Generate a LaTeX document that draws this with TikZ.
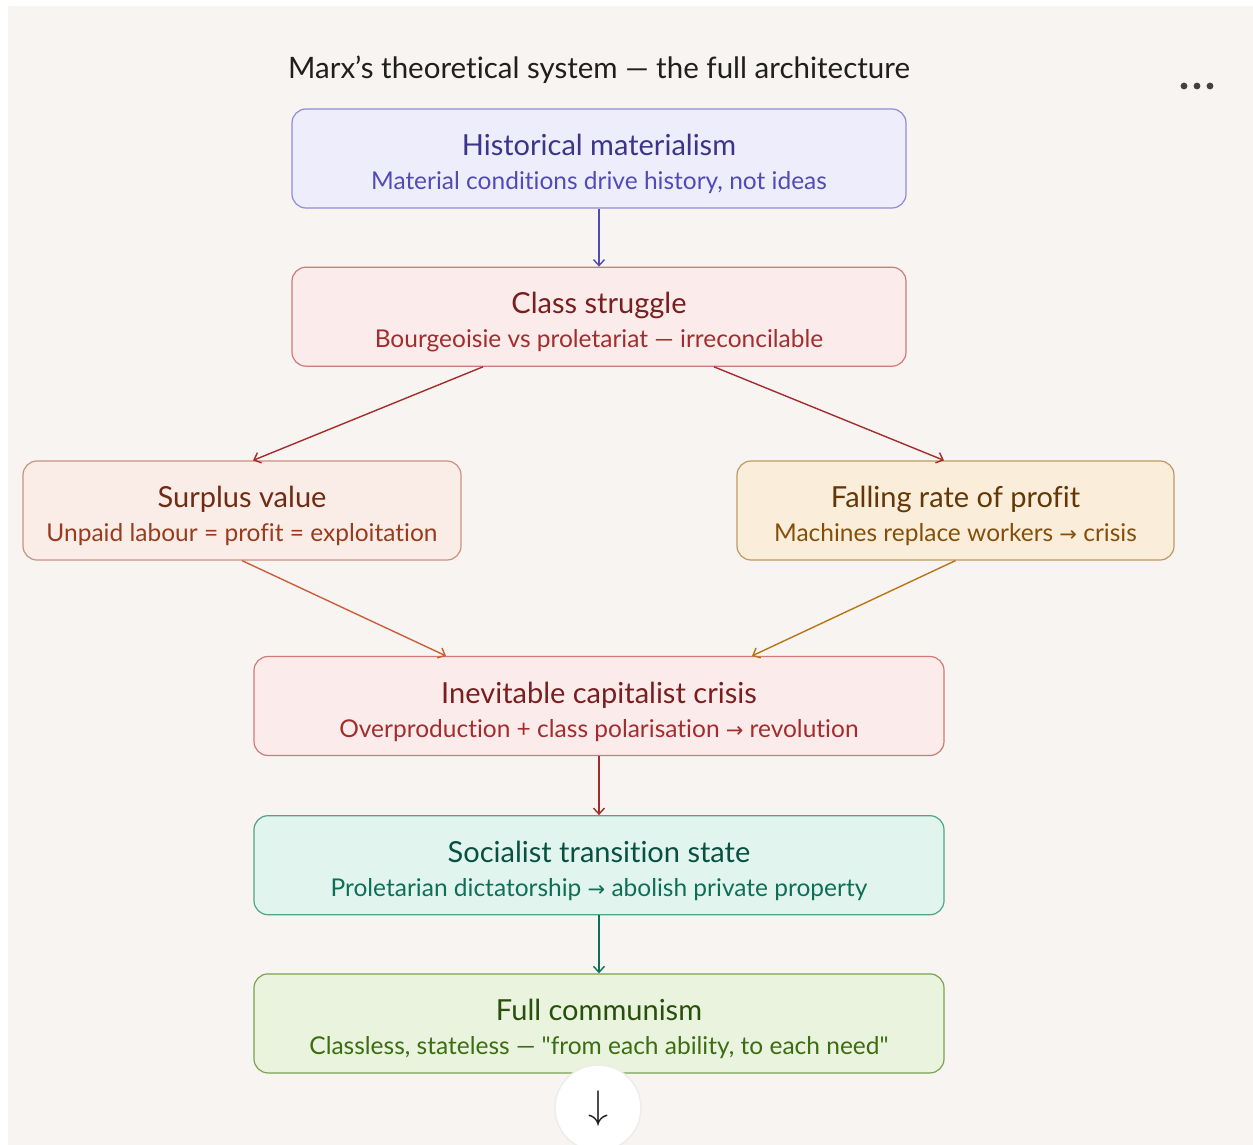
\documentclass[tikz,border=0pt]{standalone}
\usepackage{fontspec}
\setmainfont{Lato}[Ligatures={NoCommon}]
\newfontfamily\symfont{DejaVu Sans}
\usepackage{graphicx}
\usepackage{xcolor}
\definecolor{pagebg}{HTML}{F7F4F1}
\definecolor{ink}{HTML}{1F1F1F}
\definecolor{lavfill}{HTML}{EEEDFC}
\definecolor{lavline}{HTML}{908BD8}
\definecolor{lavhead}{HTML}{3C3489}
\definecolor{lavsub}{HTML}{534AB7}
\definecolor{redfill}{HTML}{FCEBEB}
\definecolor{redline}{HTML}{CF7B78}
\definecolor{redhead}{HTML}{791F1F}
\definecolor{redsub}{HTML}{A32D2D}
\definecolor{corfill}{HTML}{FAECE7}
\definecolor{corline}{HTML}{C9927F}
\definecolor{corhead}{HTML}{712B13}
\definecolor{corsub}{HTML}{993C1D}
\definecolor{corarr}{HTML}{C9603A}
\definecolor{ambfill}{HTML}{FAEEDA}
\definecolor{ambline}{HTML}{BC9A62}
\definecolor{ambhead}{HTML}{633806}
\definecolor{ambsub}{HTML}{854F0B}
\definecolor{ambarr}{HTML}{BA7517}
\definecolor{tealfill}{HTML}{E1F5EE}
\definecolor{tealline}{HTML}{52A487}
\definecolor{tealhead}{HTML}{085041}
\definecolor{tealsub}{HTML}{0F6E56}
\definecolor{grnfill}{HTML}{EAF3DE}
\definecolor{grnline}{HTML}{7AA352}
\definecolor{grnhead}{HTML}{27500A}
\definecolor{grnsub}{HTML}{3B6D11}
\usetikzlibrary{arrows.meta,positioning}
\tikzset{block/.style={draw,rounded corners=14pt,line width=1.2pt,align=center,minimum height=99pt,inner sep=0pt,font=\fontsize{24.5}{34}\selectfont},arr/.style={-{Straight Barb[length=6pt,width=11pt]},line width=1.4pt}}
\newcommand{\hd}[2]{{\color{#1}\fontsize{29}{34}\selectfont\rule{0pt}{33pt}#2}}
\newcommand{\ra}{{\symfont\fontsize{21}{34}\selectfont →}}

\begin{document}
\begin{tikzpicture}[x=1pt,y=-1pt]
\useasboundingbox (0,0) rectangle (1253,1145);
\fill[pagebg] (8,6) rectangle (1253,1145);
\node[font=\fontsize{29.5}{34}\selectfont,text=ink] (title) at (599,70) {Marx’s theoretical system — the full architecture};
\foreach \dx in {0,13,26} \fill[ink!85] (1184+\dx,86) circle (3.4pt);
\node[block,minimum width=614pt,fill=lavfill,draw=lavline,text=lavsub] (hist) at (599,158.5) {\hd{lavhead}{Historical materialism}\\Material conditions drive history, not ideas};
\node[block,minimum width=614pt,fill=redfill,draw=redline,text=redsub,below=58pt of hist] (cls) {\hd{redhead}{Class struggle}\\Bourgeoisie vs proletariat — irreconcilable};
\node[block,minimum width=438pt,fill=corfill,draw=corline,text=corsub] (sv) at (242,510.5) {\hd{corhead}{Surplus value}\\Unpaid labour = profit = exploitation};
\node[block,minimum width=437pt,fill=ambfill,draw=ambline,text=ambsub] (frp) at (955.5,510.5) {\hd{ambhead}{Falling rate of profit}\\Machines replace workers \ra{} crisis};
\node[block,minimum width=690pt,fill=redfill,draw=redline,text=redsub] (crisis) at (599,706) {\hd{redhead}{Inevitable capitalist crisis}\\Overproduction + class polarisation \ra{} revolution};
\node[block,minimum width=690pt,fill=tealfill,draw=tealline,text=tealsub,below=59pt of crisis] (soc) {\hd{tealhead}{Socialist transition state}\\Proletarian dictatorship \ra{} abolish private property};
\node[block,minimum width=690pt,fill=grnfill,draw=grnline,text=grnsub,below=58pt of soc] (comm) {\hd{grnhead}{Full communism}\\Classless, stateless — \textquotedbl from each ability, to each need\textquotedbl};
\node[circle,minimum size=86pt,inner sep=0pt,fill=white,draw=black!7,line width=1.5pt,text=ink] (more) at (598,1108) {\scalebox{4}{$\downarrow$}};
\draw[arr,lavsub](hist)--(cls);
\draw[arr,redsub]([xshift=-116pt]cls.south)--([xshift=11pt]sv.north);
\draw[arr,redsub]([xshift=115pt]cls.south)--([xshift=-11.5pt]frp.north);
\draw[arr,corarr](sv.south)--([xshift=-153pt]crisis.north);
\draw[arr,ambarr](frp.south)--([xshift=153pt]crisis.north);
\draw[arr,redsub](crisis)--(soc);
\draw[arr,tealsub](soc)--(comm);
\end{tikzpicture}
\end{document}
